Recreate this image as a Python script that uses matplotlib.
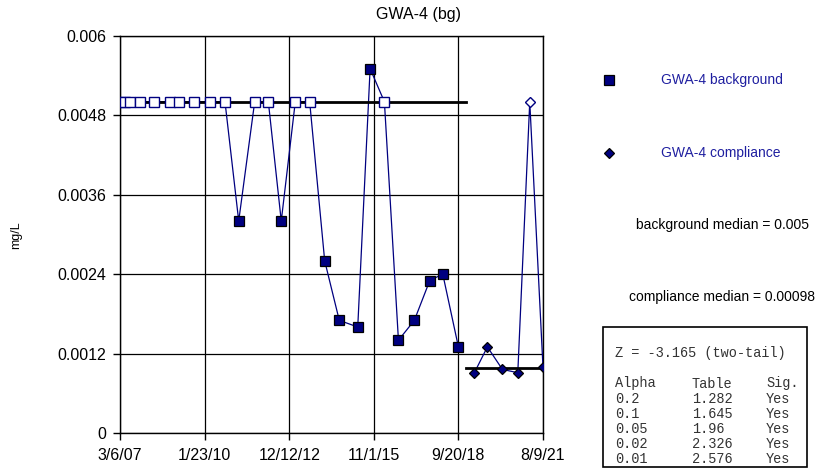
#!/usr/bin/env python

# GWA-4 (bg): background vs compliance time series with medians and a
# two-tailed test summary box, Excel-style.

import datetime as dt

import matplotlib
matplotlib.use('Agg')
import matplotlib.pyplot as plt
import matplotlib.dates as mdates
from matplotlib.lines import Line2D
from matplotlib.ticker import FuncFormatter

plt.rcParams['font.family'] = ['Liberation Sans', 'DejaVu Sans']

# Background samples (hollow = non-detect at the reporting limit)
bg_dates = ['2007-03-06', '2007-05-07', '2007-07-09', '2007-11-10',
            '2008-05-03', '2008-11-18', '2009-03-10', '2009-09-13',
            '2010-03-31', '2010-10-04', '2011-03-24', '2011-10-09',
            '2012-03-27', '2012-09-04', '2013-02-26', '2013-08-24',
            '2014-02-27', '2014-08-28', '2015-04-15', '2015-09-16',
            '2016-03-12', '2016-09-03', '2017-03-20', '2017-09-28',
            '2018-03-09', '2018-09-20']
bg_values = [0.005, 0.005, 0.005, 0.005,
             0.005, 0.005, 0.005, 0.005,
             0.005, 0.005, 0.0032, 0.005,
             0.005, 0.0032, 0.005, 0.005,
             0.0026, 0.0017, 0.0016, 0.0055,
             0.005, 0.0014, 0.0017, 0.0023,
             0.0024, 0.0013]
bg_nd = [1, 1, 1, 1,
         1, 1, 1, 1,
         1, 1, 0, 1,
         1, 0, 1, 1,
         0, 0, 0, 0,
         1, 0, 0, 0,
         0, 0]

# Compliance samples
comp_dates = ['2019-04-03', '2019-09-16', '2020-03-21', '2020-09-29',
              '2021-02-25', '2021-08-09']
comp_values = [0.0009, 0.0013, 0.00096, 0.00091, 0.005, 0.00099]
comp_nd = [0, 0, 0, 0, 1, 0]

bg_median = 0.005
comp_median = 0.00098

# Test summary
z_text = 'Z = -3.165 (two-tail)'
alphas = ['0.2', '0.1', '0.05', '0.02', '0.01']
table_vals = ['1.282', '1.645', '1.96', '2.326', '2.576']
sig = ['Yes', 'Yes', 'Yes', 'Yes', 'Yes']

# Axis layout
x_start = dt.date(2007, 3, 6)
x_step = 1054   # days between major ticks
n_steps = 5
y_ticks = [0, 0.0012, 0.0024, 0.0036, 0.0048, 0.006]
y_labels = ['0', '0.0012', '0.0024', '0.0036', '0.0048', '0.006']

navy = '#000080'
W, H = 817, 473

def to_date(s):
    return dt.datetime.strptime(s, '%Y-%m-%d').date()

bg_d = [to_date(s) for s in bg_dates]
comp_d = [to_date(s) for s in comp_dates]

fig = plt.figure(figsize=(W / 100, H / 100), dpi=100, facecolor='white')
ax = fig.add_axes([120 / W, 1 - 433 / H, 423 / W, 397.5 / H])

# Connecting lines first, markers on top
ax.plot(bg_d, bg_values, color=navy, lw=0.9, zorder=3)
ax.plot(comp_d, comp_values, color=navy, lw=0.9, zorder=3)

for d, v, nd in zip(bg_d, bg_values, bg_nd):
    if nd:
        ax.plot(d, v, marker='s', ms=7.5, mfc='white', mec=navy, mew=1.0,
                zorder=5, ls='none')
    else:
        ax.plot(d, v, marker='s', ms=7.8, mfc=navy, mec='black', mew=0.9,
                zorder=5, ls='none')
for d, v, nd in zip(comp_d, comp_values, comp_nd):
    if nd:
        ax.plot(d, v, marker='D', ms=5.2, mfc='white', mec=navy, mew=1.0,
                zorder=5, ls='none')
    else:
        ax.plot(d, v, marker='D', ms=5.2, mfc=navy, mec='black', mew=0.9,
                zorder=5, ls='none')

# Median lines; they meet halfway between the two periods
split = bg_d[-1] + (comp_d[0] - bg_d[-1]) / 2
ax.plot([bg_d[0], split], [bg_median, bg_median], color='black', lw=2.0,
        zorder=4)
ax.plot([split, comp_d[-1]], [comp_median, comp_median], color='black',
        lw=2.0, zorder=4)

# Axes
x_ticks = [x_start + dt.timedelta(days=x_step * k) for k in range(n_steps + 1)]
ax.set_xlim(x_ticks[0], x_ticks[-1])
ax.set_xticks(x_ticks)
ax.xaxis.set_major_formatter(FuncFormatter(
    lambda x, pos: '{}/{}/{:02d}'.format(mdates.num2date(x).month,
                                         mdates.num2date(x).day,
                                         mdates.num2date(x).year % 100)))
ax.set_ylim(0, 0.006)
ax.set_yticks(y_ticks)
ax.set_yticklabels(y_labels)
ax.grid(True, color='black', lw=0.9, zorder=1)
ax.set_axisbelow(True)
for sp in ax.spines.values():
    sp.set_color('black')
    sp.set_linewidth(1.0)
ax.tick_params(axis='both', direction='out', length=5, width=1.0,
               labelsize=11.5, colors='black')
ax.tick_params(axis='x', pad=6)
ax.tick_params(axis='y', pad=5)

fig.text(418 / W, 1 - 15 / H, 'GWA-4 (bg)', ha='center', va='center',
         fontsize=11.5)
fig.text(16 / W, 1 - 235 / H, 'mg/L', ha='center', va='center',
         rotation=90, fontsize=9)

# Legend-like side panel
fig.add_artist(Line2D([609 / W], [1 - 80 / H], marker='s', ms=7.8, mfc=navy,
                      mec='black', mew=0.9, transform=fig.transFigure))
fig.add_artist(Line2D([609 / W], [1 - 153 / H], marker='D', ms=5.2, mfc=navy,
                      mec='black', mew=0.9, transform=fig.transFigure))
fig.text(661 / W, 1 - 80 / H, 'GWA-4 background', ha='left', va='center',
         fontsize=10, color='#1f1fa0')
fig.text(661 / W, 1 - 153 / H, 'GWA-4 compliance', ha='left', va='center',
         fontsize=10, color='#1f1fa0')
fig.text(722 / W, 1 - 225 / H, 'background median = {:g}'.format(bg_median),
         ha='center', va='center', fontsize=10)
fig.text(722 / W, 1 - 297 / H, 'compliance median = {:g}'.format(comp_median),
         ha='center', va='center', fontsize=10)

# Test summary box
box = plt.Rectangle((603 / W, 1 - 467 / H), 204 / W, 140 / H,
                    transform=fig.transFigure, fill=False, ec='black', lw=1.2)
fig.add_artist(box)
mono = dict(family=['Liberation Mono', 'DejaVu Sans Mono'], fontsize=9.8,
            color='#333333', va='center', ha='left')
fig.text(615 / W, 1 - 353 / H, z_text, **mono)
rows = [('Alpha', 'Table', 'Sig.')] + list(zip(alphas, table_vals, sig))
for i, (a, t, s) in enumerate(rows):
    y = 1 - (383.5 + i * 15.1) / H
    fig.text(615 / W, y, a, **mono)
    fig.text(692 / W, y, t, **mono)
    fig.text(766 / W, y, s, **mono)

fig.savefig('out.png', dpi=100, facecolor='white')
